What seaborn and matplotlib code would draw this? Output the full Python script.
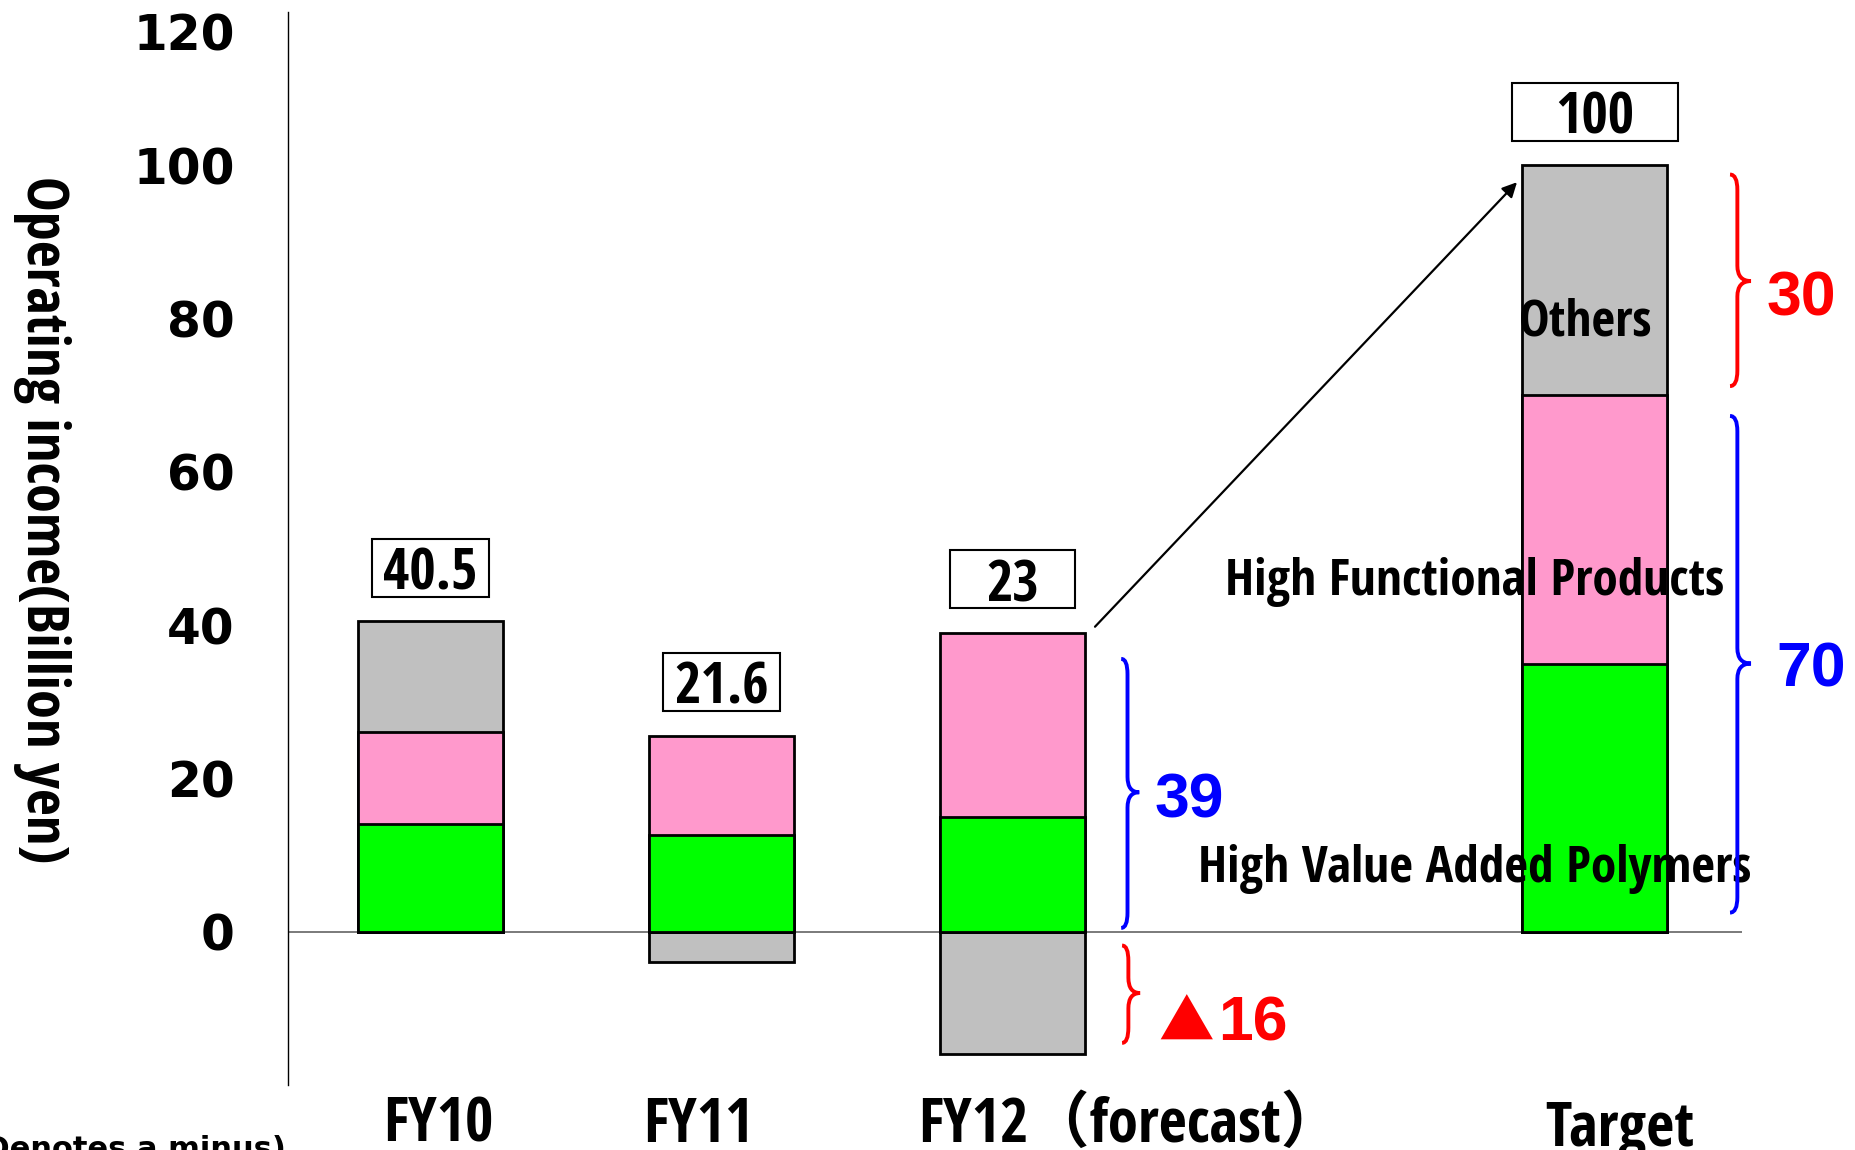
import numpy as np
import pandas as pd
import matplotlib
matplotlib.use("Agg")
import matplotlib.pyplot as plt
from matplotlib.path import Path
from matplotlib.patches import PathPatch, Rectangle
import seaborn as sns

# Operating income by segment (billion yen)
periods = ["FY10", "FY11", "FY12（forecast）", "Target"]
slots = [0, 1, 2, 4]
hva_polymers = [14.0, 12.6, 15.0, 35.0]      # High Value Added Polymers
high_functional = [12.0, 13.0, 24.0, 35.0]   # High Functional Products
others = [14.5, -4.0, -16.0, 30.0]           # Others
y_ticks = [0, 20, 40, 60, 80, 100, 120]

NARROW = ["Open Sans Condensed", "Noto Sans CJK JP", "DejaVu Sans"]
BOLD = ["Liberation Sans", "DejaVu Sans"]
WIDE = ["DejaVu Sans"]
CJK = ["Noto Sans CJK JP", "DejaVu Sans"]

sns.set_style("white")
plt.rcParams["font.family"] = NARROW
plt.rcParams["text.color"] = "black"
plt.rcParams["ytick.color"] = "black"
plt.rcParams["axes.labelcolor"] = "black"

GRAY, PINK, GREEN = "#C0C0C0", "#FF99CC", "#00FF00"
RED, BLUE = "#FF0000", "#0000FF"

hva = np.array(hva_polymers)
hfp = np.array(high_functional)
oth = np.array(others)
core = hva + hfp
totals = np.round(core + oth, 1)

fig = plt.figure(figsize=(18.56, 11.5), dpi=100)
ax = fig.add_axes([0.155, 0.0565, 0.7834, 0.9330])

# Stacks drawn back to front: full stack, then core segments on top
gray_height = np.where(oth > 0, core + oth, oth)
for heights, colour in [(gray_height, GRAY), (core, PINK), (hva, GREEN)]:
    sns.barplot(x=slots, y=heights, native_scale=True, orient="x", width=0.5,
                color=colour, saturation=1, edgecolor="black", linewidth=2.0,
                errorbar=None, ax=ax, zorder=2)

ax.axhline(0, color="#707070", lw=1.3, zorder=1)

ax.set_xlim(-0.491, 4.505)
ax.set_ylim(-20, 120)
ax.set_xticks([])
ax.set_xlabel("")
ax.set_ylabel("")
ax.set_yticks([-20] + y_ticks)
ax.set_yticklabels([""] + [str(v) for v in y_ticks])
ax.tick_params(axis="y", direction="in", length=10, width=1.0, pad=38,
               labelsize=35, colors="black")
for lab in ax.get_yticklabels():
    lab.set_fontfamily(WIDE)
    lab.set_fontweight("bold")
ax.get_yticklabels()[-1].set_verticalalignment("top")
for side in ["top", "right", "bottom"]:
    ax.spines[side].set_visible(False)
ax.spines["left"].set_color("black")
ax.spines["left"].set_linewidth(1.0)

# Total value boxes above each bar
box_w = [0.40, 0.40, 0.43, 0.57]
box_h = 7.57
tops = np.maximum(core, core + oth)
for s, top, tot, w in zip(slots, tops, totals, box_w):
    cy = top + 7.0
    ax.add_patch(Rectangle((s - w / 2, cy - box_h / 2), w, box_h, facecolor="white",
                           edgecolor="black", lw=1.5, zorder=3))
    ax.text(s, cy, f"{tot:g}", ha="center", va="center_baseline", fontsize=41,
            fontweight="bold", zorder=4)

# Category labels under the axis
cat_x = [0.025, 0.919, 2.405, 4.087]
cat_base = [-0.0531, -0.0531, -0.0531, -0.0568]
for name, cx, cy in zip(periods, cat_x, cat_base):
    ax.text(cx, cy, name, transform=ax.get_xaxis_transform(), ha="center",
            va="baseline", fontsize=44, fontweight="bold", clip_on=False)

# Segment names
ax.text(3.97, 79.5, "Others", ha="center", va="center", fontsize=37,
        fontweight="bold", zorder=5)
ax.text(3.589, 45.6, "High Functional Products", ha="center", va="center",
        fontsize=37, fontweight="bold", zorder=5)
ax.text(3.589, 8.2, "High Value Added Polymers", ha="center", va="center",
        fontsize=37, fontweight="bold", zorder=5)

# Growth arrow toward the target
ax.annotate("", xy=(3.733, 97.8), xytext=(2.283, 39.8),
            arrowprops=dict(arrowstyle="-|>", color="black", lw=1.6,
                            mutation_scale=22, shrinkA=0, shrinkB=0),
            zorder=5, annotation_clip=False)


def curly_brace(x0, y_top, y_bot, y_tip, colour, w=0.072, r=2.0):
    xm = x0 + w * 0.35
    verts = [(x0, y_top), (xm, y_top), (xm, y_top - r),
             (xm, y_tip + r), (xm, y_tip), (x0 + w, y_tip),
             (xm, y_tip), (xm, y_tip - r),
             (xm, y_bot + r), (xm, y_bot), (x0, y_bot)]
    codes = [Path.MOVETO, Path.CURVE3, Path.CURVE3, Path.LINETO,
             Path.CURVE3, Path.CURVE3, Path.CURVE3, Path.CURVE3,
             Path.LINETO, Path.CURVE3, Path.CURVE3]
    ax.add_patch(PathPatch(Path(verts, codes), facecolor="none",
                           edgecolor=colour, lw=2.8, clip_on=False, zorder=5))


curly_brace(4.465, 98.8, 71.2, 84.9, RED)
curly_brace(4.465, 67.3, 2.5, 35.0, BLUE)
curly_brace(2.373, 35.6, 0.5, 18.2, BLUE, w=0.062)
curly_brace(2.376, -1.8, -14.5, -8.0, RED, w=0.062)

ax.text(4.589, 82.5, f"{oth[3]:g}", color=RED, ha="left", va="center",
        fontsize=45, fontweight="bold", family=BOLD, clip_on=False)
ax.text(4.623, 34.2, f"{core[3]:g}", color=BLUE, ha="left", va="center",
        fontsize=45, fontweight="bold", family=BOLD, clip_on=False)
ax.text(2.486, 17.1, f"{core[2]:g}", color=BLUE, ha="left", va="center",
        fontsize=45, fontweight="bold", family=BOLD)
ax.text(2.500, -12.1, "▲", color=RED, ha="left", va="center",
        fontsize=40, fontweight="bold", family=CJK)
ax.text(2.706, -12.1, f"{abs(oth[2]):g}", color=RED, ha="left", va="center",
        fontsize=45, fontweight="bold", family=BOLD)

# Y-axis title and footnote
fig.text(42 / 1856, 1 - 520 / 1150, "Operating income(Billion yen)", rotation=270,
         ha="center", va="center", fontsize=42, fontweight="bold")
fig.text(286 / 1856, 1 - 1158 / 1150, "(▲Denotes a minus)", ha="right",
         va="baseline", fontsize=22, fontweight="bold", family=WIDE)

fig.savefig("out.png", dpi=100)
